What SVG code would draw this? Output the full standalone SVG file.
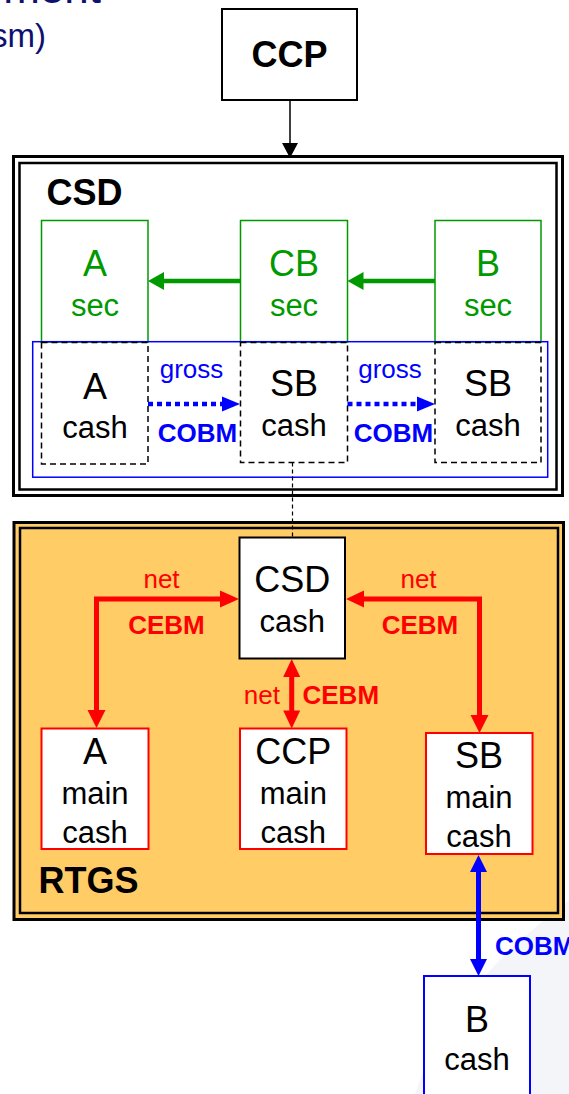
<svg xmlns="http://www.w3.org/2000/svg" width="569" height="1094" viewBox="0 0 569 1094">
<style>
text { font-family: "Liberation Sans", Arial, sans-serif; }
.c { text-anchor: middle; }
.big { font-size: 36px; }
.sub { font-size: 31px; }
.lbl { font-size: 26px; }
.hdr { font-size: 36px; font-weight: bold; }
.b { font-weight: bold; }
.k { fill: #000; }
.g { fill: #009900; }
.bl { fill: #0000FF; }
.r { fill: #FF0000; }
.gbox { fill: #fff; stroke: #009900; stroke-width: 1.5; }
.dbox { fill: none; stroke: #000; stroke-width: 1.5; stroke-dasharray: 6 4; }
.rbox { fill: #fff; stroke: #FF0000; stroke-width: 2; }
.kbox { fill: #fff; stroke: #000; stroke-width: 2; }
.bbox { fill: #fff; stroke: #0000FF; stroke-width: 2; }
.gl { stroke: #009900; stroke-width: 4.5; fill: none; }
.bd { stroke: #0000FF; stroke-width: 4.5; stroke-dasharray: 5 4; fill: none; }
.rl { stroke: #FF0000; stroke-width: 5; fill: none; }
.bll { stroke: #0000FF; stroke-width: 5; fill: none; }
</style>
<rect x="0" y="0" width="569" height="1094" fill="#fff"/>
<path d="M569 900 C 505 950 445 1005 415 1094 L569 1094 Z" fill="#F4F5F8"/>
<text x="101" y="3" font-size="44" fill="#10106F" text-anchor="end">ment</text>
<text x="46" y="47" font-size="33" fill="#10106F" text-anchor="end">sm)</text>

<g id="CCP">
<rect class="kbox" x="222" y="9" width="135" height="91"/>
<text class="c hdr k" x="289.5" y="67" font-size="35">CCP</text>
</g>

<g id="CSD">
<rect x="13.5" y="156.5" width="549" height="339" fill="#fff" stroke="#000" stroke-width="3"/>
<rect x="19.5" y="163" width="537" height="326.5" fill="none" stroke="#000" stroke-width="2.5"/>
<text class="hdr k" x="46.5" y="205">CSD</text>
</g>

<g id="A_sec">
<rect class="gbox" x="41.5" y="220.5" width="106.5" height="121.5"/>
<text class="c big g" x="95" y="276">A</text>
<text class="c sub g" x="95" y="316">sec</text>
</g>
<g id="CB_sec">
<rect class="gbox" x="240.5" y="220.5" width="107" height="121.5"/>
<text class="c big g" x="294" y="276">CB</text>
<text class="c sub g" x="294" y="316">sec</text>
</g>
<g id="B_sec">
<rect class="gbox" x="435" y="220.5" width="106" height="121.5"/>
<text class="c big g" x="488" y="276">B</text>
<text class="c sub g" x="488" y="316">sec</text>
</g>

<g id="cash_group">
<rect x="32.7" y="341.7" width="515" height="135.5" fill="none" stroke="#0000FF" stroke-width="1.5"/>
</g>

<g id="A_cash">
<rect class="dbox" x="41.5" y="342.5" width="106.5" height="121.5"/>
<text class="c big k" x="95" y="399">A</text>
<text class="c sub k" x="95" y="437.5">cash</text>
</g>
<g id="SB_cash_1">
<rect class="dbox" x="240.5" y="342.5" width="107" height="120"/>
<text class="c big k" x="294" y="396">SB</text>
<text class="c sub k" x="294" y="436">cash</text>
</g>
<g id="SB_cash_2">
<rect class="dbox" x="435" y="342.5" width="106" height="120"/>
<text class="c big k" x="488" y="396">SB</text>
<text class="c sub k" x="488" y="436">cash</text>
</g>

<g id="RTGS">
<rect x="14" y="522.5" width="549.5" height="397" fill="#FFCC66" stroke="#000" stroke-width="3"/>
<rect x="20" y="528" width="538" height="385" fill="none" stroke="#000" stroke-width="2.5"/>
<text class="k" x="38.5" y="893" font-size="36" font-weight="bold">RTGS</text>
</g>

<g id="CSD_cash">
<rect class="kbox" x="239.5" y="537.5" width="105.5" height="121"/>
<text class="c big k" x="292.3" y="591.5">CSD</text>
<text class="c sub k" x="292.3" y="631.5">cash</text>
</g>
<g id="A_main_cash">
<rect class="rbox" x="41.5" y="728.5" width="107" height="120.5"/>
<text class="c big k" x="95" y="764">A</text>
<text class="c sub k" x="95" y="804">main</text>
<text class="c sub k" x="95" y="842.5">cash</text>
</g>
<g id="CCP_main_cash">
<rect class="rbox" x="240" y="728.5" width="106.5" height="120.5"/>
<text class="c big k" x="293.3" y="764">CCP</text>
<text class="c sub k" x="293.3" y="804">main</text>
<text class="c sub k" x="293.3" y="842.5">cash</text>
</g>
<g id="SB_main_cash">
<rect class="rbox" x="426" y="733" width="106.5" height="121"/>
<text class="c big k" x="479" y="768">SB</text>
<text class="c sub k" x="479" y="808">main</text>
<text class="c sub k" x="479" y="846.5">cash</text>
</g>
<g id="B_cash">
<rect class="bbox" x="424" y="976" width="106" height="130"/>
<text class="c big k" x="477" y="1031.5">B</text>
<text class="c sub k" x="477" y="1070">cash</text>
</g>

<g id="connectors">
<g id="ccp_to_csd">
<line x1="290" y1="100" x2="290" y2="144" stroke="#000" stroke-width="1.5"/>
<polygon points="290,158 282,143 298,143" fill="#000"/>
</g>
<g id="cb_to_a_sec">
<line class="gl" x1="240" y1="281" x2="162" y2="281"/>
<polygon points="148,281 164,272 164,290" fill="#009900"/>
</g>
<g id="b_to_cb_sec">
<line class="gl" x1="435" y1="281" x2="362" y2="281"/>
<polygon points="347.5,281 363.5,272 363.5,290" fill="#009900"/>
</g>
<g id="a_to_sb_cash">
<line class="bd" x1="148" y1="404" x2="223" y2="404"/>
<polygon points="240,404 222,396.5 222,411.5" fill="#0000FF"/>
<text class="c lbl bl" x="191.5" y="377.5">gross</text>
<text class="c lbl bl b" x="197.5" y="441.5">COBM</text>
</g>
<g id="sb_to_sb_cash">
<line class="bd" x1="347.5" y1="404" x2="418" y2="404"/>
<polygon points="435,404 417,396.5 417,411.5" fill="#0000FF"/>
<text class="c lbl bl" x="390" y="377.5">gross</text>
<text class="c lbl bl b" x="393.5" y="441.5">COBM</text>
</g>
<line id="sb_cash_to_csd_cash" x1="292.5" y1="462.5" x2="292.5" y2="537.5" stroke="#000" stroke-width="1.2" stroke-dasharray="4 3"/>
<g id="a_main_csd_cash">
<path class="rl" d="M96.5 711 V599 H221"/>
<polygon points="239,599 220,590.5 220,607.5" fill="#FF0000"/>
<polygon points="96.5,728 87.5,710 105.5,710" fill="#FF0000"/>
<text class="c lbl r" x="161.5" y="588">net</text>
<text class="c lbl r b" x="166.5" y="633.5">CEBM</text>
</g>
<g id="sb_main_csd_cash">
<path class="rl" d="M363 599 H479.5 V716"/>
<polygon points="346,599 364,590.5 364,607.5" fill="#FF0000"/>
<polygon points="479.5,733 470.5,715 488.5,715" fill="#FF0000"/>
<text class="c lbl r" x="418.5" y="588">net</text>
<text class="c lbl r b" x="420" y="633.5">CEBM</text>
</g>
<g id="ccp_main_csd_cash">
<line class="rl" x1="291.7" y1="675" x2="291.7" y2="712"/>
<polygon points="291.7,659 283.2,677 300.2,677" fill="#FF0000"/>
<polygon points="291.7,728.5 283.2,710.5 300.2,710.5" fill="#FF0000"/>
<text class="lbl r" x="280" y="704" text-anchor="end">net</text>
<text class="lbl r b" x="302.5" y="703.5">CEBM</text>
</g>
<g id="b_cash_sb_main">
<line class="bll" x1="478.5" y1="871" x2="478.5" y2="960"/>
<polygon points="478.5,855 470,872 487,872" fill="#0000FF"/>
<polygon points="478.5,976 470,959 487,959" fill="#0000FF"/>
<text class="lbl bl b" x="495" y="955">COBM</text>
</g>
</g>
</svg>
